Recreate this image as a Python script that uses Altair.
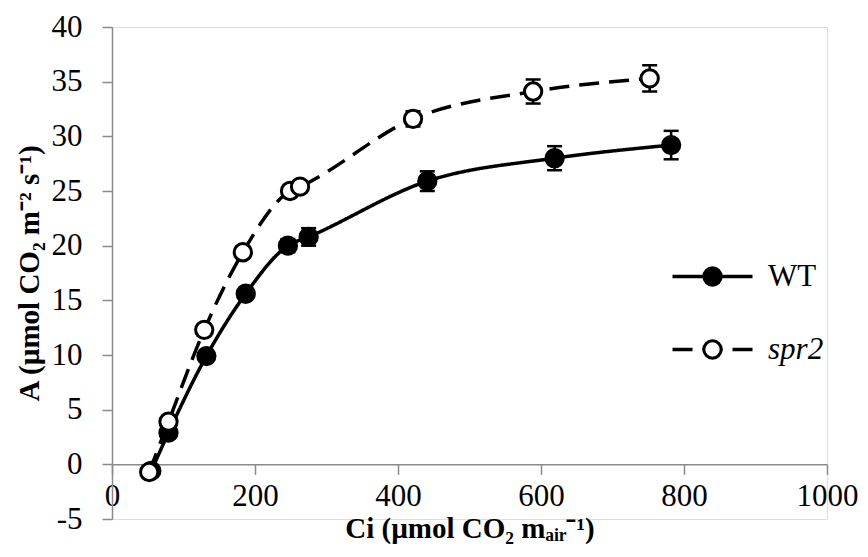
import altair as alt
import pandas as pd

# WT series
wt_ci = [55, 79, 132, 187, 246, 275, 441, 619, 782]
wt_a = [-0.6, 2.9, 9.9, 15.6, 20.0, 20.8, 25.9, 28.0, 29.2]
wt_se = [0.3, 0.4, 0.5, 0.5, 0.6, 0.8, 0.9, 1.1, 1.3]
# spr2 series
spr2_ci = [52, 79, 129, 183, 249, 263, 421, 589, 752]
spr2_a = [-0.7, 3.9, 12.3, 19.4, 25.0, 25.4, 31.6, 34.1, 35.3]
spr2_se = [0.3, 0.4, 0.5, 0.5, 0.5, 0.5, 0.7, 1.1, 1.2]

series_names = ["WT", "spr2"]
x_ticks = [0, 200, 400, 600, 800, 1000]
y_ticks = [-5, 0, 5, 10, 15, 20, 25, 30, 35, 40]

rows = []
for name, cis, aas, ses in [("WT", wt_ci, wt_a, wt_se), ("spr2", spr2_ci, spr2_a, spr2_se)]:
    for i, (c, a, s) in enumerate(zip(cis, aas, ses)):
        rows.append({"series": name, "series_l": name + "_line", "ci": c, "a": a,
                     "lo": a - s, "hi": a + s, "order": i})
df = pd.DataFrame(rows)

FONT = "Liberation Serif"
W, H = 715, 492
y_zero_offset = -H * 5 / 45

xscale = alt.Scale(domain=[0, 1000], nice=False)
yscale = alt.Scale(domain=[-5, 40], nice=False)

xaxis = alt.Axis(values=x_ticks, grid=False, offset=y_zero_offset, format="d",
                 domainColor="#8a8a8a", domainWidth=1.5, tickColor="#8a8a8a",
                 tickWidth=1.5, tickSize=10, labelFont=FONT, labelFontSize=31,
                 labelColor="black", labelPadding=7, labelFlush=False,
                 title="Ci (µmol CO₂ mₐᵢᵣ⁻¹)", titleFont=FONT, titleFontSize=29,
                 titleFontWeight="bold", titleColor="black", titlePadding=3)
yaxis = alt.Axis(values=y_ticks, grid=False,
                 labelExpr="datum.value < 0 ? '-' + format(-datum.value, 'd') : format(datum.value, 'd')",
                 domainColor="#8a8a8a", domainWidth=1.5, tickColor="#8a8a8a",
                 tickWidth=1.5, tickSize=10, labelFont=FONT, labelFontSize=31,
                 labelColor="black", labelPadding=20,
                 title="A (µmol CO₂ m⁻² s⁻¹)", titleFont=FONT, titleFontSize=29,
                 titleFontWeight="bold", titleColor="black", titlePadding=7)

base = alt.Chart(df)

err = base.mark_errorbar(color="black", opacity=1,
                         ticks={"size": 15, "thickness": 2.5, "color": "black", "opacity": 1},
                         rule={"strokeWidth": 2.5, "color": "black", "opacity": 1}).encode(
    x=alt.X("ci:Q", scale=xscale, axis=xaxis),
    y=alt.Y("lo:Q", scale=yscale, axis=yaxis),
    y2="hi:Q",
    detail="series:N",
)

line = base.mark_line(color="black", strokeWidth=3.5, interpolate="monotone").encode(
    x=alt.X("ci:Q", scale=xscale, axis=xaxis),
    y=alt.Y("a:Q", scale=yscale, axis=yaxis),
    order="order:Q",
    strokeDash=alt.StrokeDash(
        "series_l:N",
        scale=alt.Scale(domain=[n + "_line" for n in series_names],
                        range=[[1, 0], [20, 10]]),
        legend=alt.Legend(title=None, orient="none", legendX=585, legendY=234,
                          symbolType="M-4,0L4,0", symbolSize=400,
                          symbolStrokeWidth=3.5, symbolStrokeColor="black",
                          labelFont=FONT, labelFontSize=31, labelExpr="''",
                          rowPadding=41, zindex=1),
    ),
)

points = base.mark_point(filled=False, shape="circle", size=300, stroke="black",
                         strokeWidth=3, opacity=1).encode(
    x=alt.X("ci:Q", scale=xscale, axis=xaxis),
    y=alt.Y("a:Q", scale=yscale, axis=yaxis),
    fill=alt.Fill(
        "series:N",
        scale=alt.Scale(domain=series_names, range=["black", "white"]),
        legend=alt.Legend(title=None, orient="none", legendX=585, legendY=234,
                          symbolType="circle", symbolSize=300,
                          symbolStrokeWidth=3, symbolStrokeColor="black",
                          labelFont=FONT, labelFontSize=31, labelColor="black",
                          labelFontStyle=alt.ExprRef("datum.label == 'spr2' ? 'italic' : 'normal'"),
                          labelOffset=40, rowPadding=41, zindex=2),
    ),
)

chart = alt.layer(err, line, points).properties(
    width=W, height=H,
    autosize="none",
    padding={"left": 104, "top": 19, "right": 33, "bottom": 30},
).configure_view(stroke=None).configure(background="white")

chart.save("out.html", embed_options={"renderer": "svg", "actions": False})
